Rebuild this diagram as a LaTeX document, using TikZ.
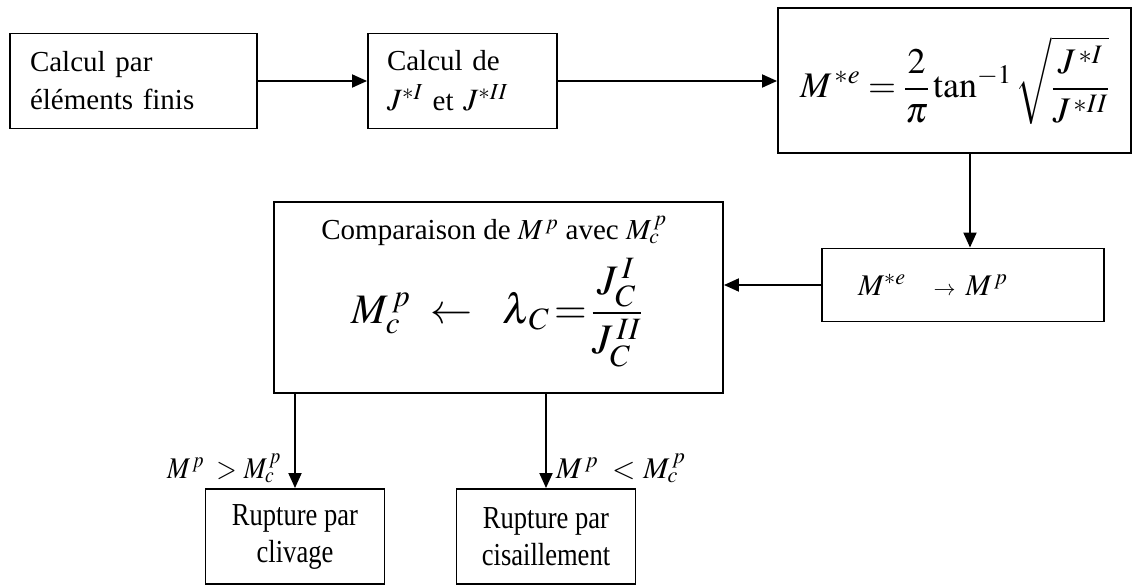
\documentclass[tikz,border=0pt]{standalone}
\usepackage{mathptmx}
\usepackage{graphicx}
\usepackage{fontspec}
\setmainfont{Liberation Serif}
\newfontfamily\condfont[FakeStretch=0.83]{Liberation Serif}
\usetikzlibrary{arrows.meta}
\newcommand\bigmath[1]{{\fontsize{31}{38}\selectfont$#1$}}
\begin{document}
\begin{tikzpicture}[x=1pt,y=-1pt,
  box/.style={draw, line width=1.9pt, inner sep=0pt},
  arr/.style={line width=1.9pt, -{Triangle[length=15pt,width=13pt]}},
  txt/.style={font=\fontsize{29}{38}\selectfont},
  ctxt/.style={font=\condfont\fontsize{32}{37}\selectfont},
  lbl/.style={font=\fontsize{30}{32}\selectfont}]
\useasboundingbox (0,0) rectangle (1133,586);
% top row
\node[box, txt, minimum width=247pt, minimum height=95pt, inner xsep=20pt, text width=207pt, align=left] (fe) at (133.5,81) {Calcul par\\éléments finis};
\node[box, txt, minimum width=189pt, minimum height=95pt, inner xsep=19pt, text width=151pt, align=left] (jj) at (462.5,81) {Calcul de\\[2pt]\bigmath{J^{*I}} et \bigmath{J^{*II}}};
\node[box, minimum width=353pt, minimum height=145pt] (fm) at (954.5,80.5) {\fontsize{36}{40}\selectfont $\displaystyle M^{\,*e}=\frac{2}{\pi}\tan^{-1}\sqrt{\frac{J^{\,*I}}{J^{\,*II}}}$};
% conversion box
\node[box, lbl, minimum width=282pt, minimum height=73pt, inner xsep=36pt, text width=210pt, align=left] (mp) at (963,285) {$M^{*e}$\hspace{28pt}{\fontsize{22}{24}\selectfont$\rightarrow$}\hspace{10pt}$M^{\,p}$};
% comparison box
\node[box, minimum width=449pt, minimum height=191pt] (cmp) at (498.5,297.5) {};
\node[txt] (ct) at (494,231) {Comparaison de $M^{\,p}$ avec $M_c^{\,p}$};
\node (cf) at (497,313) {\fontsize{42}{44}\selectfont $\displaystyle M_c^{\,p}\ \leftarrow\ \ \lambda_{\,C}\!=\!\frac{J_C^{\,I}}{J_C^{\,II}}$};
% bottom boxes
\node[box, ctxt, minimum width=179pt, minimum height=95pt, align=center] (clv) at (295,536.5) {Rupture par\\clivage};
\node[box, ctxt, minimum width=179pt, minimum height=95pt, align=center] (cis) at (546,536.5) {Rupture par\\cisaillement};
% labels
\node[lbl, anchor=east, inner sep=0pt] (l1) at (281,468) {\scalebox{0.88}[1]{$M^{\,p}$\hspace{14pt}$>$\hspace{8pt}$M_c^{\,p}$}};
\node[lbl, anchor=west, inner sep=0pt] (l2) at (556,468) {$M^{\,p}$\hspace{14pt}$<$\hspace{8pt}$M_c^{\,p}$};
% connectors
\coordinate (d) at (970,0);
\draw[arr] (fe.east) -- (jj.west);
\draw[arr] (jj.east) -- (fm.west |- jj.east);
\draw[arr] (fm.south -| d) -- (mp.north -| d);
\draw[arr] (mp.west) -- (mp.west -| cmp.east);
\draw[arr] (cmp.south -| clv.north) -- (clv.north);
\draw[arr] (cmp.south -| cis.north) -- (cis.north);
\end{tikzpicture}
\end{document}
